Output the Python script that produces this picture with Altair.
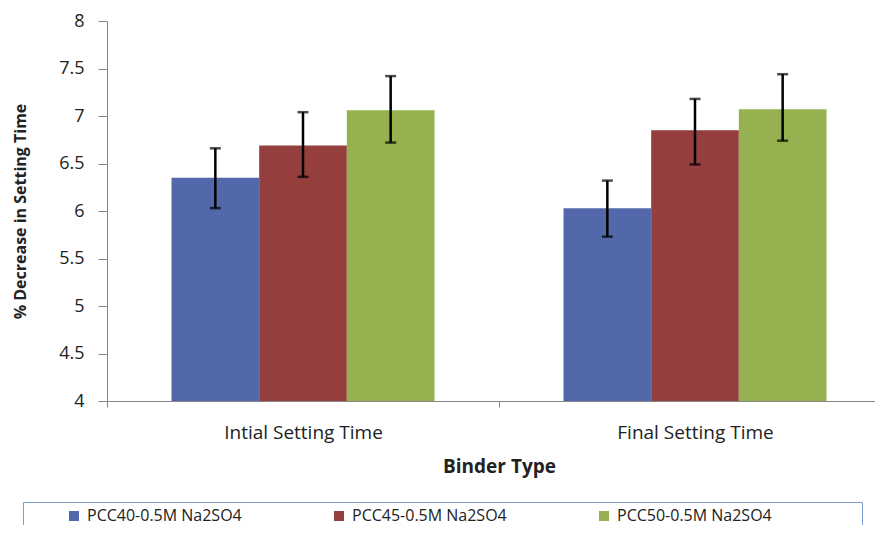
import altair as alt
import pandas as pd

binder_types = ["Intial Setting Time", "Final Setting Time"]
mixes = ["PCC40-0.5M Na2SO4", "PCC45-0.5M Na2SO4", "PCC50-0.5M Na2SO4"]
colors = ["#5368aa", "#943e3e", "#96b150"]

# % decrease, one value per binder type (initial, final)
pcc40 = [6.35, 6.03]
pcc45 = [6.69, 6.85]
pcc50 = [7.06, 7.07]

# error bar ends
pcc40_low = [6.03, 5.73]
pcc40_high = [6.66, 6.32]
pcc45_low = [6.36, 6.49]
pcc45_high = [7.04, 7.18]
pcc50_low = [6.72, 6.74]
pcc50_high = [7.42, 7.44]

rows = []
for mix, vals, lows, highs in [
    (mixes[0], pcc40, pcc40_low, pcc40_high),
    (mixes[1], pcc45, pcc45_low, pcc45_high),
    (mixes[2], pcc50, pcc50_low, pcc50_high),
]:
    for b, v, lo, hi in zip(binder_types, vals, lows, highs):
        rows.append({"binder": b, "mix": mix, "value": v, "low": lo, "high": hi})
data = pd.DataFrame(rows)

FONT = "Open Sans"

x = alt.X("binder:N",
          sort=binder_types,
          title="Binder Type",
          scale=alt.Scale(range=[0, 784], paddingInner=0, paddingOuter=0),
          axis=alt.Axis(labelAngle=0,
                        tickBand="extent",
                        tickSize=6,
                        labelPadding=16,
                        labelFontSize=19,
                        labelFont=FONT,
                        labelColor="#222222",
                        titleFont=FONT,
                        titleFontSize=19,
                        titleFontWeight="bold",
                        titleColor="#222222",
                        titlePadding=15,
                        domainColor="#868686",
                        tickColor="#868686"))
x_off = alt.XOffset("mix:N", sort=mixes,
                    scale=alt.Scale(paddingInner=0, paddingOuter=0.736))

bars = alt.Chart(data).mark_bar(clip=True).encode(
    x=x,
    xOffset=x_off,
    y=alt.Y("value:Q",
            title="% Decrease in Setting Time",
            scale=alt.Scale(domain=[4, 8], nice=False, zero=False),
            axis=alt.Axis(values=[4, 4.5, 5, 5.5, 6, 6.5, 7, 7.5, 8],
                          format="~g",
                          grid=False,
                          tickSize=9,
                          labelPadding=14,
                          labelFontSize=18,
                          labelFont=FONT,
                          labelColor="#222222",
                          titleFont=FONT,
                          titleFontSize=16,
                          titleFontWeight="bold",
                          titleColor="#222222",
                          titlePadding=30,
                          domainColor="#868686",
                          tickColor="#868686")),
    color=alt.Color("mix:N",
                    sort=mixes,
                    scale=alt.Scale(domain=mixes, range=colors),
                    legend=alt.Legend(orient="none",
                                      legendX=-84,
                                      legendY=481,
                                      direction="horizontal",
                                      title=" ",
                                      titleOrient="right",
                                      titlePadding=84,
                                      titleFontSize=4,
                                      symbolType="square",
                                      symbolSize=100,
                                      symbolStrokeWidth=0,
                                      symbolOffset=37,
                                      labelFont=FONT,
                                      labelFontSize=16,
                                      labelColor="#222222",
                                      labelOffset=5,
                                      labelLimit=400,
                                      columnPadding=52,
                                      padding=6,
                                      strokeColor="#7f9fd4",
                                      fillColor="white"))
)

err = alt.Chart(data).mark_rule(color="black", strokeWidth=2.5).encode(
    x=alt.X("binder:N", sort=binder_types),
    xOffset=alt.XOffset("mix:N", sort=mixes),
    y="low:Q",
    y2="high:Q"
)

cap_low = alt.Chart(data).mark_tick(color="black", thickness=2.5, size=11).encode(
    x=alt.X("binder:N", sort=binder_types),
    xOffset=alt.XOffset("mix:N", sort=mixes),
    y="low:Q"
)

cap_high = alt.Chart(data).mark_tick(color="black", thickness=2.5, size=11).encode(
    x=alt.X("binder:N", sort=binder_types),
    xOffset=alt.XOffset("mix:N", sort=mixes),
    y="high:Q"
)

chart = alt.layer(bars, err, cap_low, cap_high).properties(
    width=768,
    height=380,
    autosize=alt.AutoSizeParams(type="none"),
    padding={"left": 99, "top": 13, "right": 0, "bottom": 124},
    background="white"
).configure_view(
    strokeWidth=0
)

chart.save("out.html", embed_options={"renderer": "svg", "actions": False})
